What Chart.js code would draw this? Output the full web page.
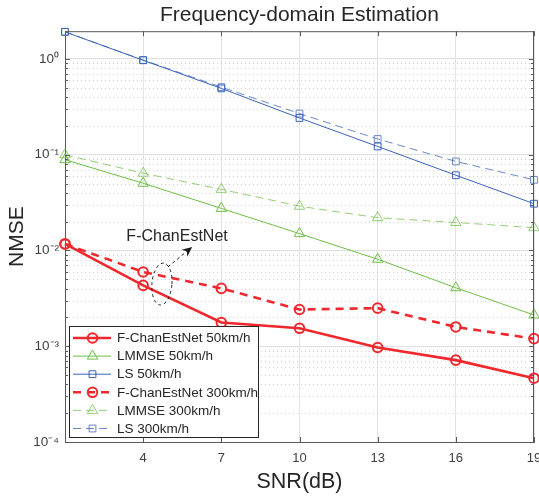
<!DOCTYPE html>
<html>
<head>
<meta charset="utf-8">
<script src="https://cdn.jsdelivr.net/npm/chart.js@4.4.0/dist/chart.umd.min.js"></script>
<style>
    html, body { margin: 0; padding: 0; background: #fff; }
    #wrap { width: 539px; height: 497px; }
</style>
</head>
<body>
<div id="wrap"><canvas id="nmseChart" width="539" height="497"></canvas></div>
<script>
// SNR points and axis ticks
const snr = [1, 4, 7, 10, 13, 16, 19];
const xTicks = [4, 7, 10, 13, 16, 19];
const yDecades = [1e-4, 1e-3, 1e-2, 1e-1, 1e0];
const yDecadeLabels = ['10⁻⁴', '10⁻³', '10⁻²', '10⁻¹', '10⁰'];
const minorSteps = [2, 3, 4, 5, 6, 7, 8, 9];

// NMSE values
const fNet50 = [0.0117, 0.00432, 0.00177, 0.00154, 0.00097, 0.000716, 0.000464];
const lmmse50 = [0.0887, 0.0504, 0.0275, 0.0150, 0.0081, 0.00408, 0.00212];
const ls50 = [1.92, 0.969, 0.493, 0.242, 0.122, 0.0611, 0.0308];
const fNet300 = [0.0117, 0.00596, 0.00402, 0.00242, 0.0025, 0.00159, 0.0012];
const lmmse300 = [0.0999, 0.0641, 0.0435, 0.029, 0.022, 0.0196, 0.0173];
const ls300 = [1.92, 0.975, 0.508, 0.269, 0.146, 0.0851, 0.0547];

const FONT = "Arial, 'Liberation Sans', Helvetica, sans-serif";
const RED = '#f0282d';
const GREEN = '#6dbe45';
const BLUE = '#3a62b8';
const GREEN_LIGHT = 'rgba(109, 190, 69, 0.75)';
const BLUE_LIGHT = 'rgba(58, 98, 184, 0.75)';

function toPoints(values) {
    return snr.map((x, i) => ({ x: x, y: values[i] }));
}

function makeSet(label, values, color, dashed, style, radius, width) {
    return {
        label: label,
        data: toPoints(values),
        borderColor: color,
        borderWidth: width,
        borderDash: dashed ? (width > 2 ? [8, 6] : [8, 5]) : [],
        pointStyle: style,
        pointRadius: radius,
        pointBorderWidth: width > 2 ? 2 : 1,
        pointBorderColor: color,
        pointBackgroundColor: 'rgba(0,0,0,0)',
        fill: false,
        tension: 0,
        clip: false
    };
}

// draws a marker like chart.js does
function drawMarker(ctx, style, x, y, r) {
    ctx.beginPath();
    if (style === 'circle') {
        ctx.arc(x, y, r, 0, Math.PI * 2);
    } else if (style === 'triangle') {
        let rad = 0;
        ctx.moveTo(x + Math.sin(rad) * r, y - Math.cos(rad) * r);
        rad += Math.PI * 2 / 3;
        ctx.lineTo(x + Math.sin(rad) * r, y - Math.cos(rad) * r);
        rad += Math.PI * 2 / 3;
        ctx.lineTo(x + Math.sin(rad) * r, y - Math.cos(rad) * r);
        ctx.closePath();
    } else {
        const s = r / Math.SQRT2;
        ctx.rect(x - s, y - s, 2 * s, 2 * s);
    }
    ctx.stroke();
}

const matlabFrame = {
    id: 'matlabFrame',
    beforeDatasetsDraw(chart) {
        const { ctx, chartArea: a, scales: { y } } = chart;
        ctx.save();
        ctx.strokeStyle = '#d2d2d2';
        ctx.lineWidth = 1;
        ctx.setLineDash([1, 3]);
        yDecades.slice(0, -1).forEach(d => {
            minorSteps.forEach(k => {
                const v = d * k;
                if (v > y.max) return;
                const py = Math.round(y.getPixelForValue(v)) + 0.5;
                ctx.beginPath();
                ctx.moveTo(a.left, py);
                ctx.lineTo(a.right, py);
                ctx.stroke();
            });
        });
        ctx.restore();
    },
    afterDatasetsDraw(chart) {
        const { ctx, chartArea: a, scales: { x, y } } = chart;
        ctx.save();
        ctx.strokeStyle = '#595959';
        ctx.lineWidth = 1;
        // top and right spines
        ctx.beginPath();
        ctx.moveTo(a.left, a.top + 0.5);
        ctx.lineTo(a.right, a.top + 0.5);
        ctx.moveTo(a.right - 0.5, a.top);
        ctx.lineTo(a.right - 0.5, a.bottom);
        ctx.stroke();
        // inward tick marks
        ctx.beginPath();
        xTicks.forEach(v => {
            const px = Math.round(x.getPixelForValue(v)) + 0.5;
            ctx.moveTo(px, a.bottom); ctx.lineTo(px, a.bottom - 5);
            ctx.moveTo(px, a.top); ctx.lineTo(px, a.top + 5);
        });
        yDecades.forEach(d => {
            const py = Math.round(y.getPixelForValue(d)) + 0.5;
            ctx.moveTo(a.left, py); ctx.lineTo(a.left + 5, py);
            ctx.moveTo(a.right, py); ctx.lineTo(a.right - 5, py);
            if (d >= 1) return;
            minorSteps.forEach(k => {
                const v = d * k;
                if (v > y.max) return;
                const pm = Math.round(y.getPixelForValue(v)) + 0.5;
                ctx.moveTo(a.left, pm); ctx.lineTo(a.left + 3, pm);
                ctx.moveTo(a.right, pm); ctx.lineTo(a.right - 3, pm);
            });
        });
        ctx.stroke();
        ctx.restore();
    },
    afterDraw(chart) {
        const { ctx, chartArea: a, scales: { x, y } } = chart;
        ctx.save();

        // annotation: ellipse, arrow and label
        ctx.strokeStyle = '#1a1a1a';
        ctx.fillStyle = '#1a1a1a';
        ctx.lineWidth = 1;
        ctx.setLineDash([3, 3]);
        ctx.beginPath();
        ctx.ellipse(x.getPixelForValue(4.72), y.getPixelForValue(0.00446), 10, 21, 0.08, 0, Math.PI * 2);
        ctx.stroke();
        const ax0 = x.getPixelForValue(4.95), ay0 = y.getPixelForValue(0.00673);
        const ax1 = x.getPixelForValue(5.88), ay1 = y.getPixelForValue(0.0109);
        const ang = Math.atan2(ay1 - ay0, ax1 - ax0);
        ctx.beginPath();
        ctx.moveTo(ax0, ay0);
        ctx.lineTo(ax1 - Math.cos(ang) * 6, ay1 - Math.sin(ang) * 6);
        ctx.stroke();
        ctx.setLineDash([]);
        ctx.beginPath();
        ctx.moveTo(ax1, ay1);
        ctx.lineTo(ax1 - Math.cos(ang) * 10 + Math.sin(ang) * 4.5, ay1 - Math.sin(ang) * 10 - Math.cos(ang) * 4.5);
        ctx.lineTo(ax1 - Math.cos(ang) * 7, ay1 - Math.sin(ang) * 7);
        ctx.lineTo(ax1 - Math.cos(ang) * 10 - Math.sin(ang) * 4.5, ay1 - Math.sin(ang) * 10 + Math.cos(ang) * 4.5);
        ctx.closePath();
        ctx.fill();
        ctx.fillStyle = '#262626';
        ctx.font = '16px ' + FONT;
        ctx.textAlign = 'center';
        ctx.textBaseline = 'middle';
        ctx.fillText('F-ChanEstNet', x.getPixelForValue(5.3), y.getPixelForValue(0.0139));

        // legend box in the lower left corner
        const sets = chart.data.datasets;
        const rowH = 18.1;
        const boxX = a.left + 4, boxW = 189;
        const boxH = 111;
        const boxY = a.bottom - 5 - boxH;
        ctx.fillStyle = '#ffffff';
        ctx.fillRect(boxX, boxY, boxW, boxH);
        ctx.strokeStyle = '#262626';
        ctx.lineWidth = 1;
        ctx.strokeRect(Math.round(boxX) + 0.5, Math.round(boxY) + 0.5, boxW, boxH);
        ctx.font = '13.5px ' + FONT;
        ctx.textAlign = 'left';
        sets.forEach((ds, i) => {
            const ry = boxY + 12 + i * rowH;
            ctx.strokeStyle = ds.borderColor;
            ctx.lineWidth = ds.borderWidth;
            ctx.setLineDash(ds.borderDash);
            ctx.beginPath();
            ctx.moveTo(boxX + 4, ry);
            ctx.lineTo(boxX + 42, ry);
            ctx.stroke();
            ctx.setLineDash([]);
            ctx.lineWidth = ds.pointBorderWidth;
            drawMarker(ctx, ds.pointStyle, boxX + 23.5, ry, ds.pointRadius);
            ctx.fillStyle = '#262626';
            ctx.fillText(ds.label, boxX + 48, ry + 0.5);
        });
        ctx.restore();
    }
};

new Chart(document.getElementById('nmseChart'), {
    type: 'line',
    data: {
        datasets: [
            makeSet('F-ChanEstNet 50km/h', fNet50, RED, false, 'circle', 4.8, 2.6),
            makeSet('LMMSE 50km/h', lmmse50, GREEN, false, 'triangle', 6, 1),
            makeSet('LS 50km/h', ls50, BLUE, false, 'rect', 4.8, 1),
            makeSet('F-ChanEstNet 300km/h', fNet300, RED, true, 'circle', 4.8, 2.6),
            makeSet('LMMSE 300km/h', lmmse300, GREEN_LIGHT, true, 'triangle', 6, 1),
            makeSet('LS 300km/h', ls300, BLUE_LIGHT, true, 'rect', 4.8, 1)
        ]
    },
    options: {
        responsive: false,
        animation: false,
        devicePixelRatio: 1,
        layout: { autoPadding: false, padding: { left: 0, right: 5, top: 0, bottom: 0 } },
        plugins: {
            legend: { display: false },
            tooltip: { enabled: false },
            title: {
                display: true,
                text: 'Frequency-domain Estimation',
                fullSize: false,
                color: '#262626',
                font: { family: FONT, size: 21, weight: 'normal' },
                padding: { top: 3, bottom: 3 }
            }
        },
        scales: {
            x: {
                type: 'linear',
                min: 1,
                max: 19,
                afterBuildTicks: s => { s.ticks = xTicks.map(v => ({ value: v })); },
                afterFit: s => { s.height = 55; s.paddingLeft = 0; s.paddingRight = 0; },
                grid: { color: '#e3e3e3', drawTicks: false },
                border: { display: true, color: '#595959', width: 1 },
                ticks: {
                    padding: 9,
                    color: '#404040',
                    font: { family: FONT, size: 13 },
                    maxRotation: 0
                },
                title: {
                    display: true,
                    text: 'SNR(dB)',
                    color: '#262626',
                    font: { family: FONT, size: 21.5 },
                    padding: { top: 0, bottom: 2 }
                }
            },
            y: {
                type: 'logarithmic',
                min: 1e-4,
                max: 1.95,
                afterBuildTicks: s => { s.ticks = yDecades.map(v => ({ value: v, major: true })); },
                afterFit: s => { s.width = 65; s.paddingTop = 0; s.paddingBottom = 0; },
                grid: { color: '#e0e0e0', drawTicks: false },
                border: { display: true, color: '#595959', width: 1 },
                ticks: {
                    padding: 6,
                    color: '#404040',
                    font: { family: FONT, size: 13.5 },
                    callback: (value, index) => yDecadeLabels[index]
                },
                title: {
                    display: true,
                    text: 'NMSE',
                    color: '#262626',
                    font: { family: FONT, size: 21 },
                    padding: { top: 5, bottom: 0 }
                }
            }
        }
    },
    plugins: [matlabFrame]
});
</script>
</body>
</html>
